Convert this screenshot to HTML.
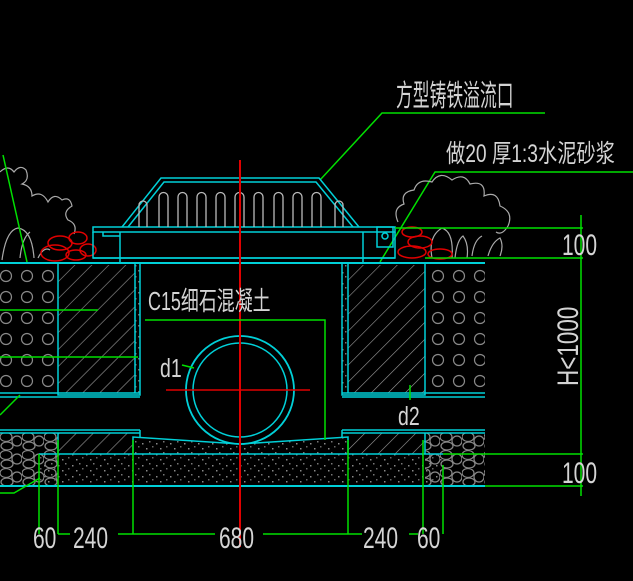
<!DOCTYPE html>
<html><head><meta charset="utf-8"><style>
html,body{margin:0;padding:0;background:#000;}
svg{display:block}
.t{font-family:"Liberation Sans","Noto Sans CJK SC",sans-serif;fill:#d4d4d4;}
</style></head><body>
<svg width="633" height="581" viewBox="0 0 633 581" xmlns="http://www.w3.org/2000/svg">
<defs>
<pattern id="hatch" width="12" height="12" patternUnits="userSpaceOnUse" patternTransform="rotate(45)">
<line x1="0" y1="0" x2="0" y2="12" stroke="#9a9a9a" stroke-width="1.2"/>
</pattern>
<pattern id="dotsR" width="21" height="21" patternUnits="userSpaceOnUse" x="428" y="266">
<circle cx="10" cy="10" r="5.5" fill="none" stroke="#8a8a8a" stroke-width="1.2"/>
</pattern>
<pattern id="dotsL" width="21" height="21" patternUnits="userSpaceOnUse" x="-4" y="266">
<circle cx="10" cy="10" r="5.5" fill="none" stroke="#8a8a8a" stroke-width="1.2"/>
</pattern>
<pattern id="speck" width="14" height="11" patternUnits="userSpaceOnUse">
<rect x="2" y="3" width="1.5" height="1.5" fill="#888"/><rect x="9" y="1" width="1.5" height="1.5" fill="#777"/>
<rect x="6" y="8" width="1.5" height="1.5" fill="#888"/><rect x="12" y="6" width="1.5" height="1.5" fill="#666"/>
</pattern>
<pattern id="gravel" width="22" height="18" patternUnits="userSpaceOnUse">
<ellipse cx="6" cy="5" rx="6" ry="4.5" fill="none" stroke="#888" stroke-width="1.2"/>
<ellipse cx="17" cy="9" rx="5" ry="5" fill="none" stroke="#888" stroke-width="1.2"/>
<ellipse cx="7" cy="14" rx="6" ry="4" fill="none" stroke="#888" stroke-width="1.2"/>
</pattern>
</defs>

<!-- labels top -->
<text class="t" x="396" y="106" font-size="30" transform="translate(396,0) scale(0.56,1) translate(-396,0)">方型铸铁溢流口</text>
<polyline points="320,180 382,113 545,113" fill="none" stroke="#00e000" stroke-width="1.5"/>
<text class="t" x="446" y="162" font-size="25" transform="translate(446,0) scale(0.77,1) translate(-446,0)">做20 厚1:3水泥砂浆</text>
<polyline points="380,262 435,172 633,172" fill="none" stroke="#00e000" stroke-width="1.5"/>

<!-- shrubs left -->
<path d="M0,172 q8,-8 14,0 q6,-8 12,-2 q4,10 -4,14 q10,2 10,12 q10,-6 16,6 q6,-10 14,-2 q8,-4 10,6 q-10,6 -4,14 q10,4 6,14" fill="none" stroke="#aaa" stroke-width="1.2"/>
<path d="M2,260 q4,-30 16,-32 q14,2 16,30 M20,258 q2,-20 10,-26 M38,258 q6,-12 12,-8" fill="none" stroke="#aaa" stroke-width="1.2"/>
<!-- shrubs right -->
<path d="M398,222 q-6,-14 6,-18 q-4,-12 10,-14 q4,-12 18,-8 q8,-12 20,-2 q12,-8 18,4 q16,-4 14,12 q14,-6 16,10 q14,6 8,20 q-6,10 -12,6" fill="none" stroke="#aaa" stroke-width="1.2"/>
<path d="M432,258 q-4,-22 10,-30 q12,4 10,30 M455,258 q2,-18 8,-22 q6,8 4,22 M472,256 q2,-16 10,-20 M488,256 q4,-14 12,-18 q4,8 0,18" fill="none" stroke="#aaa" stroke-width="1.2"/>
<!-- red stones -->
<g fill="none" stroke="#e00000" stroke-width="1.5">
<ellipse cx="60" cy="243" rx="12" ry="7"/><ellipse cx="78" cy="238" rx="9" ry="6"/><ellipse cx="88" cy="250" rx="8" ry="6"/>
<ellipse cx="55" cy="253" rx="14" ry="8"/><ellipse cx="76" cy="255" rx="10" ry="5"/>
<ellipse cx="412" cy="232" rx="10" ry="5"/><ellipse cx="420" cy="242" rx="12" ry="6"/><ellipse cx="412" cy="252" rx="14" ry="6"/><ellipse cx="440" cy="254" rx="12" ry="5"/>
</g>

<!-- soil zones -->
<rect x="0" y="265" width="58" height="128" fill="url(#dotsL)"/>
<rect x="425" y="265" width="60" height="128" fill="url(#dotsR)"/>
<!-- walls -->
<rect x="58" y="265" width="77" height="128" fill="url(#hatch)"/>
<rect x="135" y="265" width="5" height="128" fill="url(#speck)"/>
<rect x="348" y="265" width="77" height="128" fill="url(#hatch)"/>
<rect x="342" y="265" width="6" height="128" fill="url(#speck)"/>
<g fill="none" stroke="#00d0d8" stroke-width="1.5">
<rect x="58" y="263" width="82" height="132"/><line x1="135" y1="263" x2="135" y2="393"/>
<rect x="342" y="263" width="83" height="132"/><line x1="348" y1="263" x2="348" y2="393"/>
<line x1="0" y1="393" x2="140" y2="393"/><line x1="0" y1="397" x2="140" y2="397"/>
<line x1="342" y1="393" x2="485" y2="393"/><line x1="342" y1="397" x2="485" y2="397"/>
</g>
<line x1="0" y1="263" x2="485" y2="263" stroke="#00d0d8" stroke-width="2"/>

<!-- grate -->
<g fill="none" stroke="#00d0d8" stroke-width="1.5">
<polyline points="122,227 161,178 319,178 359,227"/>
<polyline points="128,227 164,182 316,182 353,227"/>
<rect x="93" y="227" width="302" height="5"/>
<polyline points="93,232 93,258 120,258 120,232"/>
<polyline points="103,232 103,236 120,236"/>
<polyline points="363,232 363,258 395,258 395,232"/>
<rect x="377" y="227" width="16" height="20"/>
<circle cx="385" cy="236" r="3"/>
<line x1="93" y1="258" x2="395" y2="258"/>
<rect x="120" y="258" width="243" height="5"/>
</g>
<g fill="none" stroke="#bbb" stroke-width="1.3">
<path d="M139,227 v-22 a4,4 0 0 1 8,0 v22"/>
<path d="M335,227 v-22 a4,4 0 0 1 8,0 v22"/>
<path d="M159,227 v-30 a4.5,4.5 0 0 1 9,0 v30"/><path d="M178,227 v-30 a4.5,4.5 0 0 1 9,0 v30"/>
<path d="M197,227 v-30 a4.5,4.5 0 0 1 9,0 v30"/><path d="M216,227 v-30 a4.5,4.5 0 0 1 9,0 v30"/>
<path d="M235,227 v-30 a4.5,4.5 0 0 1 9,0 v30"/><path d="M254,227 v-30 a4.5,4.5 0 0 1 9,0 v30"/>
<path d="M274,227 v-30 a4.5,4.5 0 0 1 9,0 v30"/><path d="M293,227 v-30 a4.5,4.5 0 0 1 9,0 v30"/>
<path d="M312,227 v-30 a4.5,4.5 0 0 1 9,0 v30"/>
</g>

<!-- bottom -->
<rect x="0" y="433" width="58" height="53" fill="url(#gravel)"/>
<rect x="425" y="433" width="60" height="53" fill="url(#gravel)"/>
<rect x="58" y="433" width="75" height="21" fill="url(#hatch)"/>
<rect x="348" y="433" width="77" height="21" fill="url(#hatch)"/>
<polygon points="133,437 240,444 348,437 348,454 133,454" fill="url(#speck)"/>
<rect x="39" y="454" width="404" height="32" fill="url(#speck)"/>
<g fill="none" stroke="#00d0d8" stroke-width="1.5">
<line x1="0" y1="430" x2="140" y2="430"/><line x1="0" y1="433" x2="140" y2="433"/><line x1="140" y1="430" x2="140" y2="437"/>
<line x1="342" y1="430" x2="485" y2="430"/><line x1="342" y1="433" x2="485" y2="433"/><line x1="342" y1="430" x2="342" y2="437"/>
<line x1="58" y1="433" x2="58" y2="454"/><line x1="425" y1="433" x2="425" y2="454"/>
<polyline points="133,454 133,437 240,444 348,437 348,454"/>
<line x1="39" y1="454" x2="443" y2="454"/>
</g>
<line x1="0" y1="486" x2="485" y2="486" stroke="#00d0d8" stroke-width="2"/>

<!-- pipe -->
<circle cx="240" cy="390" r="54" fill="#000" stroke="#00d0d8" stroke-width="1.8"/>
<circle cx="240" cy="390" r="47" fill="none" stroke="#00d0d8" stroke-width="1.5"/>
<line x1="166" y1="390" x2="310" y2="390" stroke="#e00000" stroke-width="1.5"/>
<line x1="240" y1="160" x2="240" y2="547" stroke="#e00000" stroke-width="2"/>

<!-- C15 label -->
<text class="t" x="148" y="310" font-size="26" transform="translate(148,0) scale(0.69,1) translate(-148,0)">C15细石混凝土</text>
<polyline points="145,320 325,320 325,440" fill="none" stroke="#00e000" stroke-width="1.5"/>
<text class="t" x="160" y="377" font-size="26" transform="translate(160,0) scale(0.75,1) translate(-160,0)">d1</text>
<line x1="182" y1="365" x2="194" y2="368" stroke="#00e000" stroke-width="1.5"/>
<text class="t" x="398" y="425" font-size="26" transform="translate(398,0) scale(0.75,1) translate(-398,0)">d2</text>
<line x1="410" y1="385" x2="410" y2="400" stroke="#00e000" stroke-width="1.5"/>

<!-- left green leaders -->
<g stroke="#00e000" stroke-width="1.5" fill="none">
<line x1="3" y1="155" x2="27" y2="262"/>
<line x1="0" y1="310" x2="98" y2="310"/>
<line x1="0" y1="357" x2="138" y2="357"/>
<line x1="0" y1="415" x2="20" y2="395"/>
<polyline points="0,493 14,493 40,478"/>
</g>

<!-- bottom dims -->
<g stroke="#00e000" stroke-width="1.5" fill="none">
<line x1="39" y1="454" x2="39" y2="534"/>
<line x1="58" y1="440" x2="58" y2="534"/>
<line x1="133" y1="440" x2="133" y2="534"/>
<line x1="348" y1="440" x2="348" y2="534"/>
<line x1="423" y1="440" x2="423" y2="534"/>
<line x1="443" y1="465" x2="443" y2="534"/>
<line x1="58" y1="534" x2="70" y2="534"/>
<line x1="118" y1="534" x2="215" y2="534"/>
<line x1="263" y1="534" x2="362" y2="534"/>
<line x1="409" y1="534" x2="418" y2="534"/>
</g>
<g class="t" font-size="30">
<text x="33" y="548" transform="translate(33,0) scale(0.7,1) translate(-33,0)">60</text>
<text x="73" y="548" transform="translate(73,0) scale(0.7,1) translate(-73,0)">240</text>
<text x="219" y="548" transform="translate(219,0) scale(0.7,1) translate(-219,0)">680</text>
<text x="363" y="548" transform="translate(363,0) scale(0.7,1) translate(-363,0)">240</text>
<text x="417" y="548" transform="translate(417,0) scale(0.7,1) translate(-417,0)">60</text>
</g>

<!-- right dims -->
<g stroke="#00e000" stroke-width="1.5" fill="none">
<line x1="395" y1="228" x2="583" y2="228"/>
<line x1="425" y1="258" x2="583" y2="258"/>
<line x1="581" y1="215" x2="581" y2="496"/>
<line x1="443" y1="454" x2="583" y2="454"/>
<line x1="485" y1="486" x2="583" y2="486"/>
</g>
<g class="t" font-size="30">
<text x="562" y="255" transform="translate(562,0) scale(0.7,1) translate(-562,0)">100</text>
<text x="562" y="483" transform="translate(562,0) scale(0.7,1) translate(-562,0)">100</text>
<text x="0" y="0" transform="translate(578,386) rotate(-90) scale(0.75,1)">H&lt;1000</text>
</g>
</svg>
</body></html>
